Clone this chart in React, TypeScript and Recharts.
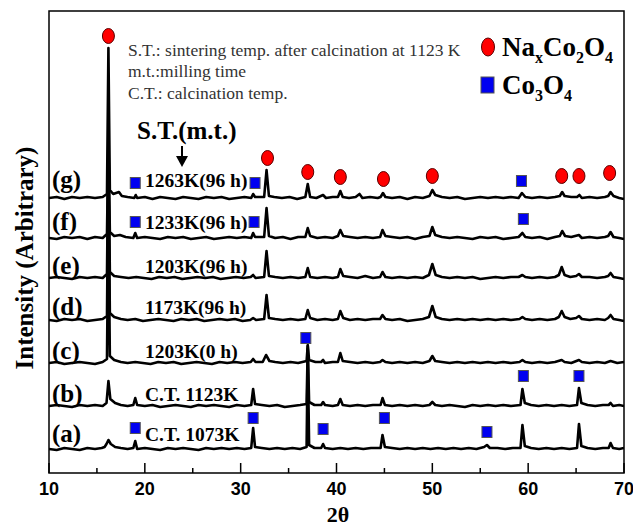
import React from 'react';
import { ComposedChart, Line, Scatter, XAxis, YAxis, ReferenceArea } from 'recharts';

// sample labels, bottom trace first
const sampleNames = ['(a)', '(b)', '(c)', '(d)', '(e)', '(f)', '(g)'];
const sampleLabels = ['C.T. 1073K', 'C.T. 1123K', '1203K(0 h)', '1173K(96 h)', '1203K(96 h)', '1233K(96 h)', '1263K(96 h)'];
// vertical stacking offset of each pattern (arbitrary units)
const traceOffsets = [24, 67, 110, 153, 195, 235, 275];

const xTicks = [10, 15, 20, 25, 30, 35, 40, 45, 50, 55, 60, 65, 70];

// [2theta, intensity above own baseline]
const traceA = [
  [10, 0], [10.8, -1], [11.6, 1], [12.4, 0], [13.2, -1], [14, 1], [14.8, 0], [15.5, 1], [15.8, 2], [16.0, 5], [16.2, 9], [16.45, 5], [16.9, 2], [17.5, 1], [18.2, 0],
  [18.8, 1], [19.0, 8], [19.2, 0], [20, 1], [20.8, 0], [21.6, -1], [22.4, 1], [23.2, 0], [24, 1], [24.8, 0], [25.6, -1], [26.4, 1], [27.2, 0], [28, 1], [28.8, 0],
  [29.6, 1], [30.4, 0], [31.1, 1], [31.3, 21], [31.5, 2], [32.2, 1], [33, 0], [33.8, 1], [34.6, 0], [35.4, 1], [36.2, 0], [36.88, 2], [37.0, 100], [37.14, 4],
  [37.7, 1], [38.4, 1], [38.6, 5], [38.8, 1], [39.6, 0], [40.4, 1], [41.2, 0], [42, 1], [42.8, 0], [43.6, 1], [44.6, 1], [44.8, 14], [45.05, 2], [45.8, 1],
  [46.6, 0], [47.4, 1], [48.2, 0], [49, 1], [49.8, 0], [50.6, 1], [51.4, 0], [52.2, 1], [53, 0], [53.8, 1], [54.6, 0], [55.4, 2], [55.7, 4], [56, 1], [56.8, 1],
  [57.6, 0], [58.4, 1], [59.2, 1], [59.4, 24], [59.65, 3], [60.3, 1], [61.1, 0], [61.9, 1], [62.7, 0], [63.5, 1], [64.3, 0], [65.1, 1], [65.3, 25], [65.55, 3],
  [66.2, 1], [67, 0], [67.8, 1], [68.4, 1], [68.6, 6], [68.85, 1], [69.5, 0], [70, 1],
];

const traceB = [
  [10, 0], [10.8, 1], [11.6, 0], [12.4, -1], [13.2, 1], [14, 0], [14.8, 1], [15.6, 0], [16.0, 3], [16.2, 25], [16.4, 7], [16.9, 3], [17.5, 1], [18.2, 0],
  [18.8, 1], [19.0, 8], [19.2, 1], [20, 0], [20.8, 1], [21.6, -1], [22.4, 0], [23.2, 1], [24, 0], [24.8, -1], [25.6, 1], [26.4, 0], [27.2, 1], [28, 0], [28.8, -1],
  [29.6, 1], [30.4, 0], [31.1, 1], [31.3, 17], [31.5, 2], [32.2, 1], [33, 0], [33.8, 1], [34.6, -1], [35.4, 0], [36.2, 1], [36.88, 2], [37.0, 60], [37.14, 4],
  [37.7, 1], [38.4, 1], [38.6, 4], [38.8, 1], [39.6, 0], [40.15, 1], [40.4, 7], [40.65, 1], [41.4, 0], [42.2, 1], [43, 0], [43.8, 1], [44.6, 1], [44.8, 8],
  [45.05, 1], [45.8, 0], [46.6, 1], [47.4, 0], [48.2, 1], [49, 0], [49.7, 1], [50.0, 4], [50.3, 1], [51, 0], [51.8, 1], [52.6, 0], [53.4, -1], [54.2, 1], [55, 0],
  [55.8, 1], [56.6, 0], [57.4, 1], [58.2, 0], [59.2, 1], [59.4, 17], [59.65, 3], [60.3, 1], [61.1, 0], [61.9, 1], [62.7, 0], [63.5, 1], [64.3, 0], [65.1, 1],
  [65.3, 18], [65.55, 3], [66.2, 1], [67, 0], [67.8, 1], [68.4, 1], [68.6, 3], [68.85, 0], [69.5, 1], [70, 0],
];

const traceC = [
  [10, 0], [10.8, 1], [11.6, -1], [12.4, 0], [13.2, 1], [14, 0], [14.8, -1], [15.6, 1], [16.05, 4], [16.2, 150], [16.35, 7], [16.8, 3], [17.5, 1], [18.2, 0],
  [19, 1], [19.8, 0], [20.6, -1], [21.4, 1], [22.2, 0], [23, 1], [23.8, -1], [24.6, 0], [25.4, 1], [26.2, 0], [27, -1], [27.8, 1], [28.6, 0], [29.4, 1],
  [30.2, 0], [31.05, 1], [31.3, 4], [31.55, 1], [32.3, 1], [32.65, 8], [33.0, 2], [33.6, 1], [34.4, 0], [35.2, 1], [36, 0], [36.88, 2], [37.0, 18], [37.14, 3],
  [37.8, 1], [38.4, 1], [38.6, 3], [38.8, 0], [39.6, 1], [40.15, 1], [40.4, 10], [40.65, 2], [41.4, 1], [42.2, 0], [43, 1], [43.8, 0], [44.55, 1], [44.8, 3],
  [45.1, 1], [45.8, 0], [46.6, 1], [47.4, 0], [48.2, 1], [49, 0], [49.7, 2], [50.0, 7], [50.3, 2], [51, 1], [51.8, 0], [52.6, 1], [53.4, 0], [54.2, 1], [55, 0],
  [55.8, 1], [56.6, 0], [57.4, 1], [58.2, 0], [59.1, 1], [59.4, 3], [59.7, 1], [60.4, 0], [61.2, 1], [62, 0], [62.8, 1], [63.5, 3], [63.8, 1], [64.5, 0],
  [65.3, 3], [65.6, 1], [66.4, 0], [67.2, 1], [68, 0], [68.6, 2], [69.3, 0], [70, 1],
];

const traceD = [
  [10, 0], [10.8, -1], [11.6, 1], [12.4, 0], [13.2, 1], [14, -1], [14.8, 0], [15.6, 1], [16.05, 4], [16.2, 160], [16.35, 7], [16.8, 3], [17.5, 1], [18.2, 0],
  [19, 1], [19.8, -1], [20.6, 0], [21.4, 1], [22.2, 0], [23, -1], [23.8, 1], [24.6, 0], [25.4, 1], [26.2, -1], [27, 0], [27.8, 1], [28.6, 0], [29.4, 1],
  [30.2, -1], [31, 0], [31.3, 2], [31.6, 0], [32.45, 1], [32.7, 25], [32.95, 2], [33.6, 1], [34.4, 0], [35.2, 1], [36, 0], [36.75, 1], [37.0, 10], [37.25, 2],
  [38, 0], [38.8, 1], [39.6, 0], [40.15, 1], [40.4, 9], [40.7, 2], [41.4, 0], [42.2, 1], [43, 0], [43.8, 1], [44.55, 1], [44.8, 5], [45.1, 1], [45.8, 0],
  [46.6, 1], [47.4, -1], [48.2, 0], [49, 1], [49.65, 3], [50.0, 14], [50.35, 3], [51, 1], [51.8, 0], [52.6, 1], [53.4, 0], [54.2, 1], [55, 0], [55.8, 1],
  [56.6, 0], [57.4, 1], [58.2, 0], [59.1, 1], [59.4, 3], [59.7, 1], [60.4, 0], [61.2, 1], [62, 0], [62.8, 1], [63.2, 3], [63.5, 9], [63.8, 3], [64.4, 1],
  [65.0, 2], [65.3, 4], [65.6, 1], [66.4, 0], [67.2, 1], [68, 0], [68.35, 2], [68.6, 5], [68.9, 1], [69.5, 0], [70, -1],
];

const traceE = [
  [10, 0], [10.8, 1], [11.6, 0], [12.4, -1], [13.2, 1], [14, 0], [14.8, 1], [15.6, 0], [16.05, 4], [16.2, 130], [16.35, 6], [16.8, 2], [17.5, 1], [18.3, 0],
  [19.1, 1], [19.9, 0], [20.7, -1], [21.5, 1], [22.3, 0], [23.1, 1], [23.9, -1], [24.7, 0], [25.5, 1], [26.3, 0], [27.1, 1], [27.9, -1], [28.7, 0], [29.5, 1],
  [30.3, 0], [31.05, 1], [31.3, 3], [31.55, 0], [32.45, 1], [32.7, 27], [32.95, 2], [33.6, 1], [34.4, 0], [35.2, 1], [36, 0], [36.75, 1], [37.0, 10], [37.25, 1],
  [38, 0], [38.8, 1], [39.6, 0], [40.15, 1], [40.4, 9], [40.7, 2], [41.4, 1], [42.2, 0], [43, 2], [43.8, 0], [44.55, 1], [44.8, 6], [45.1, 1], [45.8, 0],
  [46.6, 1], [47.4, 0], [48.2, 1], [49, 0], [49.65, 3], [50.0, 14], [50.35, 3], [51, 1], [51.8, 0], [52.6, 1], [53.4, 0], [54.2, 1], [55, -1], [55.8, 0],
  [56.6, 1], [57.4, 0], [58.2, 1], [59.0, 1], [59.4, 3], [59.7, 1], [60.4, 0], [61.2, 1], [62, 0], [62.8, 1], [63.2, 3], [63.5, 11], [63.8, 3], [64.4, 1],
  [65.0, 2], [65.3, 4], [65.6, 1], [66.4, 1], [67.2, 0], [68, 1], [68.35, 2], [68.6, 5], [68.9, 1], [69.5, 0], [70, -1],
];

const traceF = [
  [10, 0], [10.8, -1], [11.6, 1], [12.4, 0], [13.2, 1], [14, -1], [14.8, 1], [15.6, 0], [16.05, 4], [16.2, 100], [16.35, 6], [16.8, 2], [17.4, 3], [18, 1],
  [18.8, 0], [19.0, 5], [19.2, 0], [20, 1], [20.8, 0], [21.6, -1], [22.4, 1], [23.2, 0], [24, 1], [24.8, -1], [25.6, 0], [26.4, 1], [27.2, -1], [28, 0],
  [28.8, 1], [29.6, 0], [30.4, 1], [31.1, 0], [31.3, 5], [31.5, 1], [32.45, 1], [32.7, 30], [32.95, 2], [33.6, 0], [34.4, 1], [35.2, -1], [36, 1], [36.75, 1],
  [37.0, 10], [37.25, 2], [38, 0], [38.8, 1], [39.6, 0], [40.15, 2], [40.4, 8], [40.7, 2], [41.4, 1], [42.2, 0], [43, 1], [43.8, 0], [44.55, 1], [44.8, 8],
  [45.1, 2], [45.8, 1], [46.6, 0], [47.4, 1], [48.2, -1], [49, 1], [49.7, 2], [50.0, 11], [50.3, 3], [51, 1], [51.8, 0], [52.6, 1], [53.4, 0], [54.2, -1],
  [55, 1], [55.8, 0], [56.6, 1], [57.4, -1], [58.2, 0], [59.0, 1], [59.4, 5], [59.7, 1], [60.4, 0], [61.2, 1], [62, -1], [62.8, 1], [63.3, 2], [63.55, 7],
  [63.85, 2], [64.5, 1], [65.3, 3], [65.6, 0], [66.4, 1], [67.2, 0], [68, 1], [68.35, 2], [68.6, 6], [68.9, 1], [69.5, 0], [70, -1],
];

const traceG = [
  [10, 0], [10.8, 1], [11.6, -1], [12.4, 1], [13.2, 0], [14, 1], [14.8, 0], [15.6, 1], [16.05, 4], [16.2, 150], [16.35, 8], [16.7, 4], [17.3, 6], [17.6, 2],
  [18.2, 1], [18.9, 0], [19.05, 3], [19.2, 0], [20, 1], [20.8, -1], [21.6, 1], [22.4, 0], [23.2, -1], [24, 1], [24.8, 0], [25.6, -1], [26.4, 1], [27.2, 0],
  [28, 1], [28.8, -1], [29.6, 0], [30.4, 1], [31.1, 0], [31.3, 4], [31.5, 1], [32.45, 1], [32.7, 28], [32.95, 2], [33.5, 1], [34.3, 0], [35.1, 1], [35.9, -1],
  [36.75, 1], [37.0, 14], [37.25, 1], [37.9, 0], [38.6, 3], [38.9, 0], [39.6, 1], [40.15, 1], [40.4, 7], [40.65, 1], [41.3, 0], [42.0, 1], [42.4, 4], [42.7, 0],
  [43.5, 1], [44.3, 0], [44.6, 1], [44.85, 5], [45.1, 1], [45.8, 0], [46.6, 1], [47.4, -1], [48.2, 1], [49.0, 0], [49.7, 2], [50.0, 8], [50.3, 3], [51, 1],
  [51.8, 0], [52.6, 1], [53.4, -1], [54.2, 0], [55, 1], [55.8, 0], [56.6, 1], [57.4, 0], [58.2, 1], [59.0, 0], [59.35, 5], [59.7, 1], [60.4, 0], [61.2, 1],
  [62, 0], [62.8, 1], [63.3, 2], [63.55, 6], [63.8, 2], [64.5, 1], [65.1, 1], [65.35, 3], [65.6, 0], [66.4, 1], [67.2, 0], [68, 1], [68.35, 2], [68.6, 6],
  [68.9, 2], [69.5, 0], [70, -1],
];

const traces = [traceA, traceB, traceC, traceD, traceE, traceF, traceG];

// phase markers [2theta, height] in the same units as the traces
const naCoO2Marks = [
  [16.2, 437], [32.8, 315], [37.0, 301], [40.4, 296], [44.9, 294], [50.0, 297], [63.5, 297], [65.3, 297], [68.5, 300],
];
const co3o4Marks = [
  [19.0, 290], [31.5, 290], [59.3, 292],
  [19.0, 251], [31.4, 251], [59.5, 254],
  [36.8, 135],
  [59.5, 97], [65.3, 97],
  [19.0, 45], [31.3, 55], [38.6, 44], [45.0, 55], [55.7, 41],
];

const serif = '"Liberation Serif", "Times New Roman", serif';
const sans = '"Liberation Sans", Arial, sans-serif';

const toPoints = (pts: number[][], offset = 0) => pts.map(([x, y]) => ({ x, y: y + offset }));

const RedDot = (props: any) => (
  <ellipse cx={props.cx} cy={props.cy} rx={6} ry={7.5} fill="#ff0000" stroke="#5a0000" strokeWidth={1} />
);

const BlueSquare = (props: any) => (
  <rect x={props.cx - 5} y={props.cy - 5.5} width={10} height={11} fill="#0000f0" stroke="#555" strokeWidth={1} />
);

const AxisTick = (props: any) => {
  const { x, y, payload } = props;
  const major = payload.value % 10 === 0;
  return (
    <g>
      <line x1={x} x2={x} y1={y} y2={y - (major ? 10 : 5)} stroke="#000" strokeWidth={1.5} />
      {major && (
        <text x={x} y={y + 22} textAnchor="middle" fontFamily={sans} fontWeight="bold" fontSize={18} fill="#000">
          {payload.value}
        </text>
      )}
    </g>
  );
};

// text rows for the sample labels, bottom trace first
const labelRows = [434, 394, 351, 307, 266, 222, 180];

export default function App() {
  return (
    <div style={{ position: 'absolute', left: 0, top: 0, width: 633, height: 526, background: '#fff' }}>
      <ComposedChart width={633} height={526} margin={{ top: 11, right: 9, bottom: 23, left: 49 }}>
        <XAxis
          type="number"
          dataKey="x"
          domain={[10, 70]}
          ticks={xTicks}
          interval={0}
          allowDataOverflow
          axisLine={false}
          tickLine={false}
          tickSize={0}
          tickMargin={0}
          height={30}
          tick={<AxisTick />}
        />
        <YAxis type="number" dataKey="y" domain={[0, 462]} allowDataOverflow hide />
        {traces.map((t, i) => (
          <Line
            key={sampleNames[i]}
            data={toPoints(t, traceOffsets[i])}
            dataKey="y"
            type="linear"
            stroke="#000"
            strokeWidth={2.6}
            strokeLinejoin="round"
            dot={false}
            activeDot={false}
            isAnimationActive={false}
          />
        ))}
        <ReferenceArea x1={10} x2={70} y1={0} y2={462} fill="none" fillOpacity={0} stroke="#000" strokeWidth={1.5} ifOverflow="visible" />
        <Scatter data={toPoints(naCoO2Marks)} shape={<RedDot />} isAnimationActive={false} />
        <Scatter data={toPoints(co3o4Marks)} shape={<BlueSquare />} isAnimationActive={false} />
      </ComposedChart>
      <svg width={633} height={526} style={{ position: 'absolute', left: 0, top: 0, pointerEvents: 'none' }}>
        <g fontFamily={serif} fontSize={17.5} fill="#333">
          <text x={128} y={56}>S.T.: sintering temp. after calcination at 1123 K</text>
          <text x={128} y={77}>m.t.:milling time</text>
          <text x={128} y={99}>C.T.: calcination temp.</text>
        </g>
        <text x={137} y={139} fontFamily={serif} fontWeight="bold" fontSize={25} fill="#000">S.T.(m.t.)</text>
        <line x1={182} x2={182} y1={146} y2={158} stroke="#000" strokeWidth={2} />
        <polygon points="176,156 188,156 182,167" fill="#000" />
        {sampleNames.map((n, i) => (
          <text key={n} x={52} y={labelRows[i] + 8} fontFamily={serif} fontWeight="bold" fontSize={25} fill="#000">{n}</text>
        ))}
        {sampleLabels.map((s, i) => (
          <text key={s + i} x={145} y={labelRows[i] + 7} fontFamily={serif} fontWeight="bold" fontSize={19.5} fill="#000">{s}</text>
        ))}
        <ellipse cx={488} cy={47} rx={6.5} ry={9} fill="#ff0000" stroke="#5a0000" strokeWidth={1} />
        <text x={502} y={56} fontFamily={serif} fontWeight="bold" fontSize={27} fill="#000">
          Na<tspan fontSize={16} dy={7}>x</tspan><tspan dy={-7}>Co</tspan><tspan fontSize={16} dy={7}>2</tspan><tspan dy={-7}>O</tspan><tspan fontSize={16} dy={7}>4</tspan>
        </text>
        <rect x={481} y={77} width={13} height={16} fill="#0000f0" stroke="#555" strokeWidth={1} />
        <text x={502} y={94} fontFamily={serif} fontWeight="bold" fontSize={27} fill="#000">
          Co<tspan fontSize={16} dy={7}>3</tspan><tspan dy={-7}>O</tspan><tspan fontSize={16} dy={7}>4</tspan>
        </text>
        <text x={24} y={258} transform="rotate(-90 24 258)" textAnchor="middle" dominantBaseline="central" fontFamily={serif} fontWeight="bold" fontSize={25} fill="#000">
          Intensity (Arbitrary)
        </text>
        <text x={338} y={522} textAnchor="middle" fontFamily={serif} fontWeight="bold" fontSize={22} fill="#000">2θ</text>
      </svg>
    </div>
  );
}
